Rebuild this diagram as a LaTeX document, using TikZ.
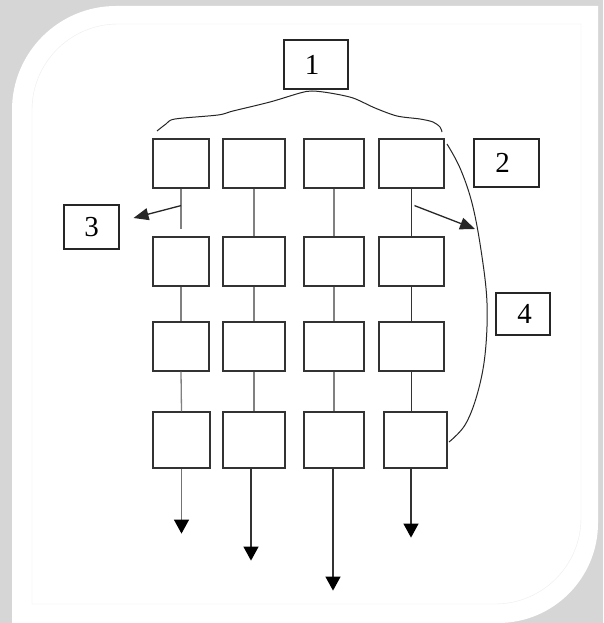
\documentclass[tikz,border=0pt]{standalone}
\usepackage{fontspec}
\setmainfont{Liberation Serif}
\usetikzlibrary{arrows.meta}

\begin{document}
\begin{tikzpicture}[x=1pt,y=-1pt,
    cell/.style={draw=black!80,line width=1.2pt,inner sep=0pt},
    tag/.style={draw=black!85,line width=1.1pt,inner sep=0pt,font=\fontsize{29}{30}\selectfont},
    link/.style={black!50,line width=1.3pt},
    flow/.style={black!80,line width=1.3pt,-{Triangle[width=15pt,length=14pt,color=black]}},
    hint/.style={black!85,line width=1.3pt,-{Triangle[width=12pt,length=15pt]}},
    brace/.style={black!85,line width=1pt}]
      \useasboundingbox (0,0) rectangle (603,623);
      \fill [black!16] (0,0) rectangle (603,623);
      \fill [white] (12,623) -- (12,110) arc [start angle=180, end angle=270, radius=104]
        -- (598,6) -- (598,523) arc [start angle=0, end angle=90, radius=100] -- cycle;
      \draw [black!7] (32,604) -- (32,110) arc [start angle=180, end angle=270, radius=86]
        -- (581,24) -- (581,518) arc [start angle=0, end angle=90, radius=86] -- cycle;
      % grid of cells, last row apart
      \foreach \c/\x/\w in {1/181/56,2/254/62,3/334/60,4/411.5/65}
      \foreach \r/\y in {1/163.5,2/261.5,3/346.5}
      {
        \node [cell, minimum width=\w pt, minimum height=49pt] (b\c\r) at (\x,\y) {};
      }
      \foreach \c/\x/\w in {1/181.5/57,2/254/62,3/334/60,4/415.5/63}
        \node [cell, minimum width=\w pt, minimum height=56pt] (b\c4) at (\x,440) {};
      \node [tag, minimum width=64pt, minimum height=49pt] (l1) at (316,64.5) {\hspace{-8pt}1};
      \node [tag, minimum width=65pt, minimum height=48pt] (l2) at (506.5,163) {\hspace{-8pt}2};
      \node [tag, minimum width=55pt, minimum height=44pt] (l3) at (91.5,227) {3};
      \node [tag, minimum width=54pt, minimum height=42pt] (l4) at (523,314) {\hspace{3pt}4};
      % links between rows
      \draw [link] (b11.south) -- ++(0,40) coordinate (g1);
      \draw [link] (b21.south) -- (b22.north);
      \draw [link] (b31.south) -- (b32.north);
      \draw [black!80, line width=1.3pt] (b41.south) -- (b42.north);
      \foreach \c in {1,2,3}
      {
        \draw [link] (b\c2.south) -- (b\c3.north);
        \draw [link] (b\c3.south) -- (b\c4.north);
      }
      \draw [black!80, line width=1.3pt] (b42.south) -- (b43.north);
      \draw [black!80, line width=1.3pt] (b43.south) -- (b43.south |- b44.north);
      % outputs
      \draw [flow, black!55] (b14.south) -- ++(0,65);
      \draw [flow] ([xshift=-3pt]b24.south) -- ++(0,92);
      \draw [flow] ([xshift=-1pt]b34.south) -- ++(0,122);
      \draw [flow] ([xshift=-4.5pt]b44.south) -- ++(0,69);
      % brackets and pointers
      \draw [brace] plot [smooth, tension=0.5] coordinates {(157,131) (166,124) (175,119)
        (218,115) (233,111) (270,102) (300,93) (312,91) (330,93) (353,98) (375,108)
        (397,116) (420,119) (433,122) (440,127) (442,132)};
      \draw [brace] plot [smooth, tension=0.6] coordinates {(447,144) (460,168) (472,203)
        (481,250) (487,303) (485,355) (477,395) (465,425) (449,442)};
      \coordinate (k4) at (475,229);
      \draw [hint] ([shift={(0,17)}]b11.south) -- ([shift={(14,-9)}]l3.east);
      \draw [hint] ([shift={(3,17)}]b41.south) -- (k4);
    \end{tikzpicture}
\end{document}
